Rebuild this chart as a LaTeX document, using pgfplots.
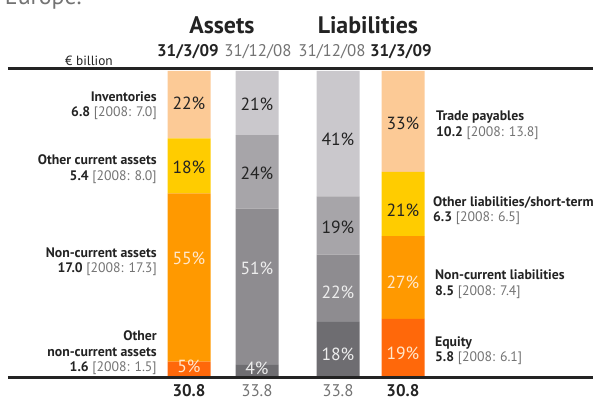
\documentclass[border=0pt]{standalone}
\usepackage{pgfplots}
\pgfplotsset{compat=1.18}
\usepackage{fontspec}
\setmainfont{PT Sans}
\definecolor{peach}{RGB}{252,202,150}
\definecolor{yel}{RGB}{255,204,0}
\definecolor{orng}{RGB}{255,153,0}
\definecolor{dorng}{RGB}{255,104,10}
\definecolor{ga}{RGB}{202,200,204}
\definecolor{gb}{RGB}{167,165,169}
\definecolor{gc}{RGB}{142,140,144}
\definecolor{gd}{RGB}{110,109,113}
\definecolor{txt}{RGB}{35,35,35}
\definecolor{sub}{RGB}{115,115,115}
\definecolor{lpeach}{RGB}{255,232,205}
\definecolor{lgrey}{RGB}{238,238,238}
\pgfplotsset{bs/.style={at={(0,0)},anchor=south west,width=15cm,height=10cm,
  scale only axis,hide axis,xmin=0,xmax=600,ymin=-7.516,ymax=123.2,
  ybar stacked,bar width=43,clip=false}}
\newcommand\lab{\bfseries\fontsize{9.8}{10}\selectfont}
\newcommand\slab{\fontsize{9.8}{10}\selectfont}
\newcommand\pc{\fontsize{12.5}{12.5}\selectfont}
\begin{document}
\begin{tikzpicture}
% orange columns (31/3/09)
\begin{axis}[bs]
\addplot[fill=dorng,draw=none] coordinates {(189,5) (403,19)};
\addplot[fill=orng,draw=none] coordinates {(189,55) (403,27)};
\addplot[fill=yel,draw=none] coordinates {(189,18) (403,21)};
\addplot[fill=peach,draw=none] coordinates {(189,22) (403,33)};
\end{axis}
% grey columns (31/12/08)
\begin{axis}[bs]
\addplot[fill=gd,draw=none] coordinates {(257,4) (338,18)};
\addplot[fill=gc,draw=none] coordinates {(257,51) (338,22)};
\addplot[fill=gb,draw=none] coordinates {(257,24) (338,19)};
\addplot[fill=ga,draw=none] coordinates {(257,21) (338,41)};
\end{axis}
\begin{scope}[yshift=10cm,x=0.025cm,y=-0.025cm]
\node[anchor=base west,font=\fontsize{17}{17}\selectfont,text=sub] at (0,5) {Europe.};
\draw[line width=2.1pt,txt] (8,69)--(593,69);
\draw[line width=2.1pt,txt] (8,378)--(593,378);
\node[font=\bfseries\fontsize{17}{17}\selectfont,text=txt] at (222,25) {Assets};
\node[font=\bfseries\fontsize{17}{17}\selectfont,text=txt] at (368,25) {Liabilities};
\node[font=\bfseries\fontsize{12}{12}\selectfont,text=txt] at (188,52) {31/3/09};
\node[font=\fontsize{12}{12}\selectfont,text=sub] at (258,52) {31/12/08};
\node[font=\fontsize{12}{12}\selectfont,text=sub] at (332,52) {31/12/08};
\node[font=\bfseries\fontsize{12}{12}\selectfont,text=txt] at (401,52) {31/3/09};
\node[font=\fontsize{9.5}{10}\selectfont,text=txt] at (89,61) {€ billion};
% left labels
\node[anchor=east,font=\lab,text=txt,inner sep=0pt] at (157,97) {Inventories};
\node[anchor=east,font=\slab,inner sep=0pt] at (157,113) {{\bfseries\color{txt}6.8} {\color{sub}[2008: 7.0]}};
\node[anchor=east,font=\lab,text=txt,inner sep=0pt] at (157,160) {Other current assets};
\node[anchor=east,font=\slab,inner sep=0pt] at (157,177) {{\bfseries\color{txt}5.4} {\color{sub}[2008: 8.0]}};
\node[anchor=east,font=\lab,text=txt,inner sep=0pt] at (157,253) {Non-current assets};
\node[anchor=east,font=\slab,inner sep=0pt] at (157,269) {{\bfseries\color{txt}17.0} {\color{sub}[2008: 17.3]}};
\node[anchor=east,font=\lab,text=txt,inner sep=0pt] at (157,336) {Other};
\node[anchor=east,font=\lab,text=txt,inner sep=0pt] at (157,352) {non-current assets};
\node[anchor=east,font=\slab,inner sep=0pt] at (157,368) {{\bfseries\color{txt}1.6} {\color{sub}[2008: 1.5]}};
% right labels
\node[anchor=west,font=\lab,text=txt,inner sep=0pt] at (436,117) {Trade payables};
\node[anchor=west,font=\slab,inner sep=0pt] at (436,133) {{\bfseries\color{txt}10.2} {\color{sub}[2008: 13.8]}};
\node[anchor=west,font=\lab,text=txt,inner sep=0pt] at (433,203) {Other liabilities/short-term};
\node[anchor=west,font=\slab,inner sep=0pt] at (433,218) {{\bfseries\color{txt}6.3} {\color{sub}[2008: 6.5]}};
\node[anchor=west,font=\lab,text=txt,inner sep=0pt] at (435,275) {Non-current liabilities};
\node[anchor=west,font=\slab,inner sep=0pt] at (435,292) {{\bfseries\color{txt}8.5} {\color{sub}[2008: 7.4]}};
\node[anchor=west,font=\lab,text=txt,inner sep=0pt] at (435,343) {Equity};
\node[anchor=west,font=\slab,inner sep=0pt] at (435,358) {{\bfseries\color{txt}5.8} {\color{sub}[2008: 6.1]}};
% percentages
\node[font=\pc,text=txt] at (189,103) {22\%};
\node[font=\pc,text=txt] at (189,167) {18\%};
\node[font=\pc,text=lpeach] at (189,258) {55\%};
\node[font=\pc,text=lpeach] at (189,366) {5\%};
\node[font=\pc,text=txt] at (257,104) {21\%};
\node[font=\pc,text=txt] at (257,173) {24\%};
\node[font=\pc,text=lgrey] at (257,268) {51\%};
\node[font=\pc,text=lgrey] at (257,368) {4\%};
\node[font=\pc,text=txt] at (338,139) {41\%};
\node[font=\pc,text=txt] at (338,227) {19\%};
\node[font=\pc,text=lgrey] at (338,292) {22\%};
\node[font=\pc,text=lgrey] at (338,354) {18\%};
\node[font=\pc,text=txt] at (403,123) {33\%};
\node[font=\pc,text=txt] at (403,210) {21\%};
\node[font=\pc,text=lpeach] at (403,282) {27\%};
\node[font=\pc,text=lpeach] at (403,353) {19\%};
% totals
\node[font=\bfseries\fontsize{12}{12}\selectfont,text=txt] at (189,391) {30.8};
\node[font=\fontsize{12}{12}\selectfont,text=sub] at (257,391) {33.8};
\node[font=\fontsize{12}{12}\selectfont,text=sub] at (338,391) {33.8};
\node[font=\bfseries\fontsize{12}{12}\selectfont,text=txt] at (403,391) {30.8};
\end{scope}
\pgfresetboundingbox
\path[use as bounding box] (0,0) rectangle (15,10);
\end{tikzpicture}
\end{document}
